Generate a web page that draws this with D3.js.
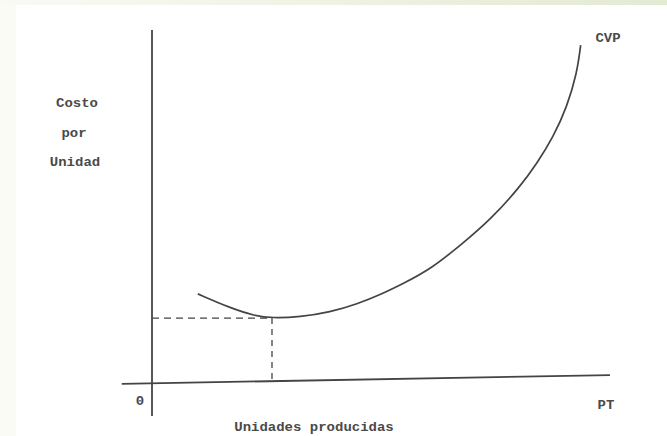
<!DOCTYPE html>
<html><head><meta charset="utf-8">
<script src="https://cdn.jsdelivr.net/npm/d3@7"></script>
<style>
html,body{margin:0;padding:0;background:#fff;}
svg{display:block;}
</style></head>
<body>
<svg id="c" width="667" height="436"></svg>
<script>
// Data (x = unidades producidas, y = costo por unidad), units of the drawn axes
const cvpX = [10.0, 17.0, 22.5, 26.2, 32.3, 38.9, 44.8, 50.2, 54.6, 60.9, 67.9, 73.8, 80.3, 84.1, 87.6, 90.6, 92.8, 93.6];
const cvpY = [24.6, 20.6, 18.3, 17.7, 18.0, 19.4, 21.7, 24.6, 27.4, 31.7, 39.1, 45.7, 55.1, 62.0, 69.4, 78.0, 87.7, 95.7];
const minPoint = [26.2, 17.7];
const axisLabels = ["0", "PT", "CVP", "Unidades producidas"];
const yLabelLines = ["Costo", "por", "Unidad"];

const svg = d3.select("#c");
const W = 667, H = 436;

// frame / background like the scan
const defs = svg.append("defs");
const g1 = defs.append("linearGradient").attr("id","topg").attr("x1","0").attr("x2","1");
g1.append("stop").attr("offset","0").attr("stop-color","#fafaf5");
g1.append("stop").attr("offset","1").attr("stop-color","#e3ead2");
svg.append("rect").attr("x",0).attr("y",0).attr("width",W).attr("height",H).attr("fill","#ffffff");
svg.append("rect").attr("x",0).attr("y",0).attr("width",16).attr("height",H).attr("fill","#fbfbf6");
svg.append("rect").attr("x",0).attr("y",0).attr("width",W).attr("height",5).attr("fill","url(#topg)");

const x = d3.scaleLinear().domain([0, 100]).range([152, 610]);
const y = d3.scaleLinear().domain([0, 100]).range([380, 30]);

const ink = "#444";
const font = "'Liberation Mono', 'DejaVu Sans Mono', monospace";

// axes
svg.append("line")
  .attr("x1", x(0)).attr("x2", x(0))
  .attr("y1", y(100)).attr("y2", y(-10.3))
  .attr("stroke", ink).attr("stroke-width", 1.8);
svg.append("line")
  .attr("x1", x(-6.6)).attr("y1", y(-1.1))
  .attr("x2", x(100)).attr("y2", y(1.4))
  .attr("stroke", ink).attr("stroke-width", 1.8);

// dashed guide lines
svg.append("line")
  .attr("x1", x(0)).attr("x2", x(minPoint[0]))
  .attr("y1", y(minPoint[1])).attr("y2", y(minPoint[1]))
  .attr("stroke", ink).attr("stroke-width", 1.3).attr("stroke-dasharray", "7,5");
svg.append("line")
  .attr("x1", x(minPoint[0])).attr("x2", x(minPoint[0]))
  .attr("y1", y(minPoint[1])).attr("y2", y(0))
  .attr("stroke", ink).attr("stroke-width", 1.3).attr("stroke-dasharray", "6,5");

// curve
const pts = cvpX.map((v, i) => [v, cvpY[i]]);
svg.append("path")
  .attr("d", d3.line().x(d => x(d[0])).y(d => y(d[1])).curve(d3.curveBasis)(pts))
  .attr("fill", "none").attr("stroke", ink).attr("stroke-width", 1.7);

// texts
const txt = (s, tx, ty, anchor) => svg.append("text")
  .attr("x", tx).attr("y", ty).attr("text-anchor", anchor || "middle")
  .attr("font-family", font).attr("font-size", 14).attr("font-weight", "bold")
  .attr("fill", "#4a4a4a")
  .attr("transform", `translate(${tx},${ty}) scale(1,0.85) translate(${-tx},${-ty})`)
  .text(s);

txt(axisLabels[0], 140, 405);
txt(axisLabels[1], 606, 409);
txt(axisLabels[2], 608, 42);
txt(axisLabels[3], 314, 431);
txt(yLabelLines[0], 77, 107);
txt(yLabelLines[1], 74, 137);
txt(yLabelLines[2], 75, 166);
</script>
</body></html>
